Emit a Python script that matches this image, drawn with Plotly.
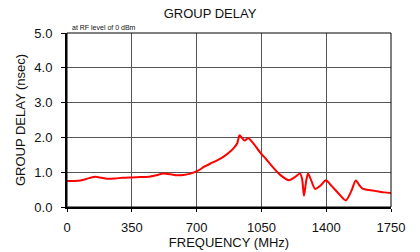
import plotly.graph_objects as go

freq_mhz = [0, 40, 80, 120, 153, 185, 216, 260, 300, 350, 400, 440, 480, 521, 560, 595, 630, 667,
            710, 739, 775, 811, 850, 883, 905, 920, 932, 946, 959, 979, 1000, 1046, 1075, 1100,
            1150, 1199, 1228, 1259, 1270, 1280, 1292, 1302, 1320, 1340, 1370, 1398, 1430,
            1473, 1506, 1535, 1560, 1580, 1596, 1640, 1677, 1715, 1750]
delay_ns = [0.75, 0.75, 0.77, 0.83, 0.87, 0.84, 0.81, 0.82, 0.84, 0.85, 0.86, 0.87, 0.91, 0.96,
            0.94, 0.91, 0.92, 0.96, 1.05, 1.15, 1.25, 1.34, 1.46, 1.60, 1.72, 1.84, 2.06, 1.98,
            1.91, 1.98, 1.87, 1.55, 1.38, 1.22, 0.93, 0.77, 0.85, 0.96, 0.80, 0.32, 0.75,
            0.96, 0.75, 0.52, 0.62, 0.77, 0.60, 0.35, 0.19, 0.45, 0.76, 0.62, 0.53, 0.48, 0.45,
            0.42, 0.40]
x_ticks = [0, 350, 700, 1050, 1400, 1750]
y_ticks = [0.0, 1.0, 2.0, 3.0, 4.0, 5.0]

fig = go.Figure()
fig.add_trace(go.Scatter(x=freq_mhz, y=delay_ns, mode="lines",
                         line=dict(color="#ff0000", width=2, shape="spline", smoothing=0.7),
                         showlegend=False))

font_main = "Liberation Sans, Arial, sans-serif"
fig.update_layout(
    width=420, height=252,
    margin=dict(l=67, r=29, t=33, b=45),
    paper_bgcolor="white", plot_bgcolor="white",
    font=dict(family=font_main, size=13, color="#111"),
    title=dict(text="GROUP DELAY", x=0.5, xanchor="center", y=1 - 13 / 252, yanchor="middle",
               font=dict(size=13, family=font_main, color="#111")),
    xaxis=dict(range=[0, 1750], tickvals=x_ticks, ticktext=[str(v) for v in x_ticks],
               showgrid=True, gridcolor="#555", gridwidth=1,
               showline=True, linecolor="black", linewidth=2, mirror=False,
               ticks="outside", ticklen=3, tickcolor="black", ticklabelstandoff=4,
               tickfont=dict(size=13),
               title=dict(text="FREQUENCY (MHz)", standoff=2, font=dict(size=13)),
               zeroline=False, fixedrange=True, automargin=False),
    yaxis=dict(range=[0, 5], tickvals=y_ticks, ticktext=[f"{v:.1f}" for v in y_ticks],
               showgrid=True, gridcolor="#555", gridwidth=1,
               showline=True, linecolor="black", linewidth=2,
               ticks="outside", ticklen=4, tickcolor="black", ticklabelstandoff=6,
               tickfont=dict(size=13),
               title=dict(text="GROUP DELAY (nsec)", standoff=6, font=dict(size=13)),
               zeroline=False, fixedrange=True, automargin=False),
    shapes=[dict(type="rect", xref="paper", yref="paper", x0=0, x1=1, y0=0, y1=1,
                 line=dict(color="black", width=1), layer="above")],
    annotations=[dict(text="at RF level of 0 dBm", xref="paper", yref="paper", x=0.008, y=1.0,
                      xanchor="left", yanchor="bottom", showarrow=False,
                      font=dict(size=7, family=font_main, color="#111"))],
)
fig.write_html("out.html", config={"displayModeBar": False},
               post_script="document.body.style.margin='0';document.body.style.padding='0';")
